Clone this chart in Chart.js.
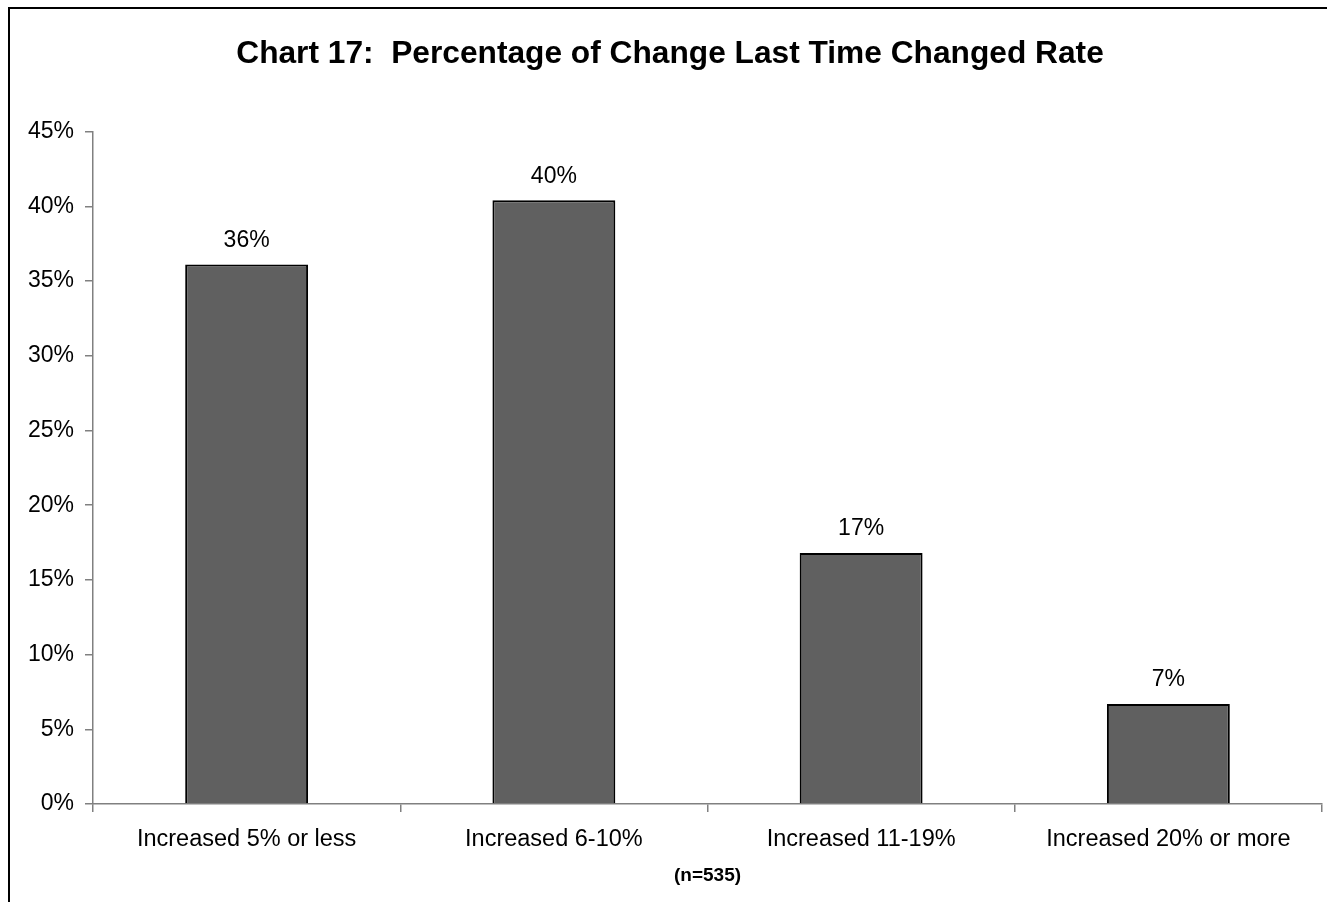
<!DOCTYPE html>
<html>
<head>
<meta charset="utf-8">
<script src="https://cdn.jsdelivr.net/npm/chart.js@4/dist/chart.umd.min.js"></script>
<style>
  html, body { margin: 0; padding: 0; background: #fff; overflow: hidden; }
  #frame {
    position: absolute; left: 8px; top: 7px;
    width: 1340px; height: 920px;
    border-top: 2px solid #000; border-left: 2px solid #000;
  }
  #wrap { position: absolute; left: 0; top: 0; width: 1340px; height: 902px; }
</style>
</head>
<body>
<div id="frame"></div>
<div id="wrap"><canvas id="rateChart" width="1340" height="902"></canvas></div>
<script>
// chart data
const categories = ["Increased 5% or less", "Increased 6-10%", "Increased 11-19%", "Increased 20% or more"];
const percentValues = [36.1, 40.4, 16.8, 6.7];
const yTicks = [0, 5, 10, 15, 20, 25, 30, 35, 40, 45];

const chartTitle = "Chart 17:  Percentage of Change Last Time Changed Rate";
const sampleNote = "(n=535)";

const FONT = "Arial, 'Liberation Sans', sans-serif";
const AXIS_GRAY = "#808080";

// value labels above the bars
const barLabels = {
    id: "barLabels",
    afterDatasetsDraw(chart) {
        const ctx = chart.ctx;
        const meta = chart.getDatasetMeta(0);
        ctx.save();
        ctx.font = "23px " + FONT;
        ctx.fillStyle = "#000";
        ctx.textAlign = "center";
        ctx.textBaseline = "middle";
        meta.data.forEach((bar, i) => {
            const v = chart.data.datasets[0].data[i];
            ctx.fillText(Math.round(v) + "%", bar.x, bar.y - 24);
        });
        ctx.restore();
    }
};

new Chart(document.getElementById("rateChart"), {
    type: "bar",
    data: {
        labels: categories,
        datasets: [{
            data: percentValues,
            backgroundColor: "#606060",
            borderColor: "#000",
            borderWidth: 2,
            categoryPercentage: 1.0,
            barPercentage: 0.4
        }]
    },
    options: {
        responsive: false,
        animation: false,
        devicePixelRatio: 1,
        layout: { padding: { left: 18, right: 18, top: 0, bottom: 0 } },
        plugins: {
            legend: { display: false },
            tooltip: { enabled: false },
            title: {
                display: true,
                text: chartTitle,
                color: "#000",
                font: { family: FONT, size: 31.7, weight: "bold", lineHeight: 1.2 },
                padding: { top: 35, bottom: 58.6 }
            }
        },
        scales: {
            x: {
                grid: {
                    display: true,
                    drawOnChartArea: false,
                    drawTicks: true,
                    tickLength: 8,
                    color: AXIS_GRAY,
                    lineWidth: 1.5,
                    offset: true
                },
                border: { display: true, color: AXIS_GRAY, width: 1.5 },
                ticks: {
                    color: "#000",
                    font: { family: FONT, size: 23.5 },
                    padding: 13,
                    maxRotation: 0
                },
                title: {
                    display: true,
                    text: sampleNote,
                    color: "#000",
                    font: { family: FONT, size: 19, weight: "bold", lineHeight: 1.2 },
                    padding: { top: 0, bottom: 15 }
                },
                afterFit(scale) { scale.height = 98; }
            },
            y: {
                min: 0,
                max: 45,
                afterBuildTicks(scale) {
                    scale.ticks = yTicks.map(v => ({ value: v }));
                },
                grid: {
                    display: true,
                    drawOnChartArea: false,
                    drawTicks: true,
                    tickLength: 8,
                    color: AXIS_GRAY,
                    lineWidth: 1.5
                },
                border: { display: true, color: AXIS_GRAY, width: 1.5 },
                ticks: {
                    color: "#000",
                    font: { family: FONT, size: 23 },
                    padding: 11,
                    callback: v => v + "%"
                },
                afterFit(scale) { scale.width = 75; }
            }
        }
    },
    plugins: [barLabels]
});
</script>
</body>
</html>
